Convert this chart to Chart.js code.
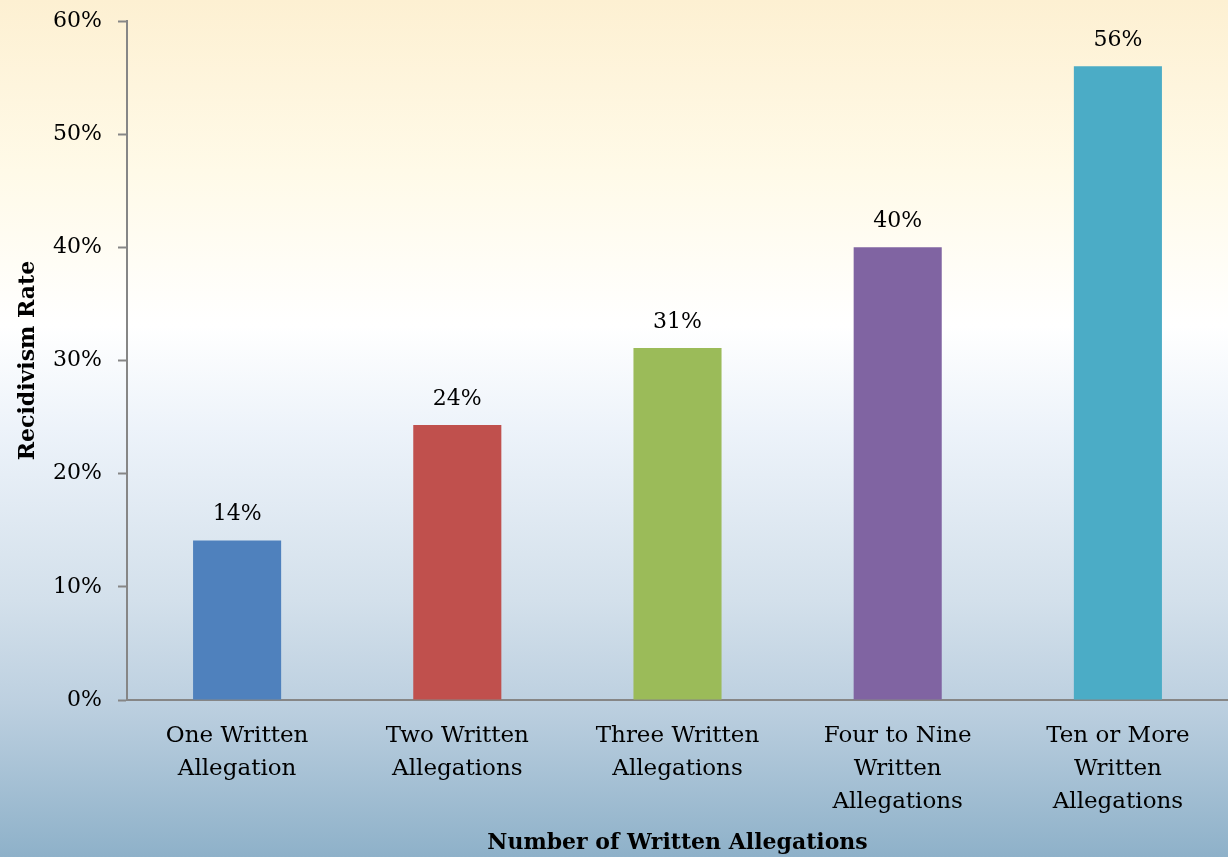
<!DOCTYPE html>
<html>
<head>
<meta charset="utf-8">
<script src="https://cdn.jsdelivr.net/npm/chart.js@4.4.0/dist/chart.umd.min.js"></script>
<style>
html,body{margin:0;padding:0;background:#fff;}
#wrap{width:1228px;height:857px;position:relative;}
</style>
</head>
<body>
<div id="wrap"><canvas id="c" width="1228" height="857"></canvas></div>
<script>
const categories = [
  ["One Written", "Allegation"],
  ["Two Written", "Allegations"],
  ["Three Written", "Allegations"],
  ["Four to Nine", "Written", "Allegations"],
  ["Ten or More", "Written", "Allegations"]
];
const recidivismRates = [0.141, 0.243, 0.311, 0.400, 0.560];
const dataLabels = ["14%", "24%", "31%", "40%", "56%"];
const barColors = ["#4F81BD", "#C0504D", "#9BBB59", "#8064A2", "#4BACC6"];
const yTicks = [0, 0.1, 0.2, 0.3, 0.4, 0.5, 0.6];

const FONT = "'DejaVu Serif', 'Liberation Serif', serif";

const bgPlugin = {
  id: 'bg',
  beforeDraw(chart) {
    const ctx = chart.ctx;
    const h = chart.height, w = chart.width;
    const g = ctx.createLinearGradient(0, 0, 0, h);
    g.addColorStop(0, '#FDF0D2');
    g.addColorStop(0.2, '#FFFAE8');
    g.addColorStop(0.38, '#FFFFFF');
    g.addColorStop(0.5, '#EDF3FA');
    g.addColorStop(0.7, '#D3E0EB');
    g.addColorStop(0.82, '#BDD0E0');
    g.addColorStop(1, '#8EB1C9');
    ctx.save();
    ctx.fillStyle = g;
    ctx.fillRect(0, 0, w, h);
    ctx.restore();
  }
};

const labelPlugin = {
  id: 'barLabels',
  afterDatasetsDraw(chart) {
    const ctx = chart.ctx;
    const meta = chart.getDatasetMeta(0);
    ctx.save();
    ctx.font = "22px " + FONT;
    ctx.fillStyle = '#000';
    ctx.textAlign = 'center';
    ctx.textBaseline = 'middle';
    meta.data.forEach((bar, i) => {
      ctx.fillText(dataLabels[i], bar.x, bar.y - 26);
    });
    ctx.restore();
  }
};

new Chart(document.getElementById('c'), {
  type: 'bar',
  data: {
    labels: categories,
    datasets: [{
      data: recidivismRates,
      backgroundColor: barColors,
      borderWidth: 0,
      barPercentage: 0.4,
      categoryPercentage: 1.0
    }]
  },
  options: {
    responsive: false,
    animation: false,
    devicePixelRatio: 1,
    layout: { padding: { top: 21, right: 0, left: 0, bottom: 0 } },
    plugins: {
      legend: { display: false },
      tooltip: { enabled: false }
    },
    scales: {
      x: {
        afterFit(scale) { scale.height = 157; scale.paddingLeft = 0; scale.paddingRight = 0; },
        grid: { display: false, drawTicks: false },
        border: { display: true, color: '#868686', width: 2 },
        ticks: {
          color: '#000',
          font: { family: FONT, size: 23, lineHeight: 1.42 },
          padding: 20,
          maxRotation: 0,
          autoSkip: false
        },
        title: {
          display: true,
          text: 'Number of Written Allegations',
          color: '#000',
          font: { family: FONT, size: 22, weight: 'bold' },
          padding: { top: 0, bottom: 1 }
        }
      },
      y: {
        min: 0,
        max: 0.6,
        afterFit(scale) { scale.width = 127; scale.paddingTop = 0; scale.paddingBottom = 0; },
        afterBuildTicks(scale) {
          scale.ticks = yTicks.map(v => ({ value: v }));
        },
        grid: {
          drawOnChartArea: false,
          drawTicks: true,
          tickLength: 9,
          tickColor: '#868686',
          tickWidth: 2
        },
        border: { display: true, color: '#868686', width: 2 },
        ticks: {
          color: '#000',
          font: { family: FONT, size: 22 },
          padding: 16,
          callback: v => Math.round(v * 100) + '%'
        },
        title: {
          display: true,
          text: 'Recidivism Rate',
          color: '#000',
          font: { family: FONT, size: 22, weight: 'bold' },
          padding: { top: 15, bottom: 0 }
        }
      }
    }
  },
  plugins: [bgPlugin, labelPlugin]
});
</script>
</body>
</html>
